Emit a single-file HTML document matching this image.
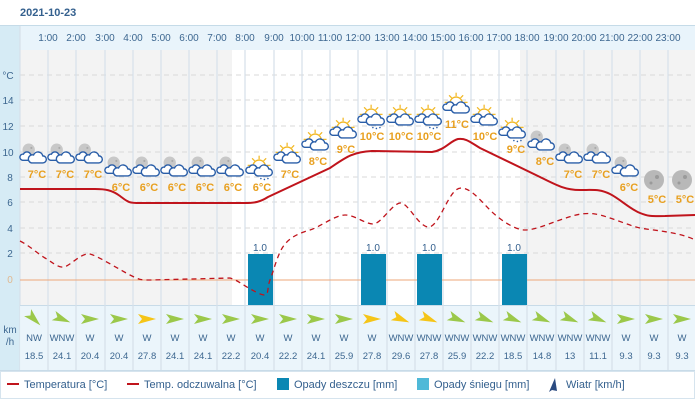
<!DOCTYPE html>
<html><head><meta charset="utf-8"><style>
body{margin:0;background:#fff;font-family:"Liberation Sans",sans-serif}
svg text{font-family:"Liberation Sans",sans-serif}
</style></head><body>
<svg width="695" height="408" xmlns="http://www.w3.org/2000/svg">
<defs>
<g id="cl"><path d="M-3 9 h13 a4 4 0 0 0 0-8 a5.5 5.5 0 0 0 -10.5 -1 a4.5 4.5 0 0 0 -2.5 9 z" fill="#fff" stroke="#2a5ea8" stroke-width="1.6"/></g>
<g id="cl2"><path d="M-13 6 h8 a4 4 0 0 0 1-7 a4.5 4.5 0 0 0 -8 0 a3.5 3.5 0 0 0 -1 7z" fill="#fff" stroke="#2a5ea8" stroke-width="1.6"/><use href="#cl"/></g>
<g id="sun"><g stroke="#f2b824" stroke-width="1.4"><line x1="-1" y1="-14" x2="-1" y2="-10"/><line x1="-9" y1="-11" x2="-6" y2="-8"/><line x1="7" y1="-11" x2="4" y2="-8"/><line x1="-14" y1="-3" x2="-10" y2="-3"/><line x1="8" y1="-3" x2="12" y2="-3"/></g><path d="M-8 -2 a7 7 0 0 1 14 0" fill="#fff" stroke="#f2b824" stroke-width="1.5"/></g>
<g id="moon"><circle cx="-6" cy="-6" r="7" fill="#c8c8c8"/><circle cx="-3" cy="-8" r="1.2" fill="#aaa"/></g>
<g id="mc"><g transform="scale(0.88)"><use href="#moon"/><use href="#cl2"/></g></g>
<g id="sc"><g transform="scale(0.88)"><use href="#sun"/><use href="#cl2"/></g></g>
<g id="sr"><g transform="scale(0.88)"><use href="#sun"/><use href="#cl2"/><g fill="#2a5ea8"><circle cx="1" cy="12" r="0.9"/><circle cx="5" cy="13" r="0.9"/><circle cx="9" cy="12" r="0.9"/></g></g></g>
<g id="mb"><circle cx="0" cy="0" r="10" fill="#b8b8b8"/><circle cx="3" cy="-3" r="2" fill="#9a9a9a"/><circle cx="-3" cy="3" r="1.5" fill="#9a9a9a"/></g>
<path id="ar" d="M-9 -5 L9 0 L-9 5 L-5 0 Z"/>
</defs>
<text x="20" y="16" font-size="11" font-weight="bold" fill="#34608e">2021-10-23</text>
<rect x="0" y="26" width="20" height="346" fill="#d6ebf5"/>
<rect x="20" y="26" width="675" height="24" fill="#e9f4fb"/>
<line x1="0" y1="25.5" x2="695" y2="25.5" stroke="#c5dbe8"/>
<rect x="20" y="50" width="212" height="255" fill="#f3f3f3"/>
<rect x="520" y="50" width="175" height="255" fill="#f3f3f3"/>
<g stroke="#d8d8d8" stroke-dasharray="5,4"><line x1="20" y1="75" x2="695" y2="75"/><line x1="20" y1="100" x2="695" y2="100"/><line x1="20" y1="126" x2="695" y2="126"/><line x1="20" y1="152" x2="695" y2="152"/><line x1="20" y1="177" x2="695" y2="177"/><line x1="20" y1="202" x2="695" y2="202"/><line x1="20" y1="228" x2="695" y2="228"/><line x1="20" y1="253" x2="695" y2="253"/></g>
<g stroke="#d6e0ea" stroke-width="1.2"><line x1="20" y1="26" x2="20" y2="372"/><line x1="48" y1="50" x2="48" y2="370"/><line x1="76" y1="50" x2="76" y2="370"/><line x1="105" y1="50" x2="105" y2="370"/><line x1="133" y1="50" x2="133" y2="370"/><line x1="161" y1="50" x2="161" y2="370"/><line x1="189" y1="50" x2="189" y2="370"/><line x1="217" y1="50" x2="217" y2="370"/><line x1="245" y1="50" x2="245" y2="370"/><line x1="274" y1="50" x2="274" y2="370"/><line x1="302" y1="50" x2="302" y2="370"/><line x1="330" y1="50" x2="330" y2="370"/><line x1="358" y1="50" x2="358" y2="370"/><line x1="387" y1="50" x2="387" y2="370"/><line x1="415" y1="50" x2="415" y2="370"/><line x1="443" y1="50" x2="443" y2="370"/><line x1="471" y1="50" x2="471" y2="370"/><line x1="499" y1="50" x2="499" y2="370"/><line x1="527" y1="50" x2="527" y2="370"/><line x1="556" y1="50" x2="556" y2="370"/><line x1="584" y1="50" x2="584" y2="370"/><line x1="612" y1="50" x2="612" y2="370"/><line x1="640" y1="50" x2="640" y2="370"/><line x1="668" y1="50" x2="668" y2="370"/></g>
<g font-size="10" fill="#3d6790" text-anchor="middle"><text x="48" y="41">1:00</text><text x="76" y="41">2:00</text><text x="105" y="41">3:00</text><text x="133" y="41">4:00</text><text x="161" y="41">5:00</text><text x="189" y="41">6:00</text><text x="217" y="41">7:00</text><text x="245" y="41">8:00</text><text x="274" y="41">9:00</text><text x="302" y="41">10:00</text><text x="330" y="41">11:00</text><text x="358" y="41">12:00</text><text x="387" y="41">13:00</text><text x="415" y="41">14:00</text><text x="443" y="41">15:00</text><text x="471" y="41">16:00</text><text x="499" y="41">17:00</text><text x="527" y="41">18:00</text><text x="556" y="41">19:00</text><text x="584" y="41">20:00</text><text x="612" y="41">21:00</text><text x="640" y="41">22:00</text><text x="668" y="41">23:00</text></g>
<g font-size="10" fill="#3d6790" text-anchor="middle"><text x="8" y="79">°C</text><text x="8" y="104">14</text><text x="8" y="130">12</text><text x="8" y="156">10</text><text x="10" y="181">8</text><text x="10" y="206">6</text><text x="10" y="232">4</text><text x="10" y="257">2</text><text x="10" y="283" fill="#e0b890">0</text><text x="10" y="333">km</text><text x="10" y="345">/h</text></g>
<line x1="20" y1="280" x2="695" y2="280" stroke="#eea77a" stroke-width="1"/>
<g fill="#0a87b3"><rect x="248" y="254" width="25" height="51"/><rect x="361" y="254" width="25" height="51"/><rect x="417" y="254" width="25" height="51"/><rect x="502" y="254" width="25" height="51"/></g>
<g font-size="10" fill="#34608e" text-anchor="middle"><text x="260" y="251">1.0</text><text x="373" y="251">1.0</text><text x="429" y="251">1.0</text><text x="514" y="251">1.0</text></g>
<path d="M20 241 C30 246,38 254,45 258 S58 268,64 267 S82 252,90 254 S120 270,130 275 S140 280,150 280 L230 278 C238 280,245 287,258 293 S266 290,270 280 S278 252,285 244 S300 233,310 230 S335 215,345 215 S365 224,373 224 S392 204,400 203 S418 226,428 227 S446 198,456 190 S480 200,490 210 S515 230,525 230 S548 224,560 220 S582 212,595 214 S630 226,640 228 S680 232,695 240" fill="none" stroke="#c0141c" stroke-width="1.3" stroke-dasharray="5,4"/>
<path d="M20 189 L95 189 C105 189,112 190,120 196 S128 203,140 203 L245 203 C255 203,260 202,268 197 L330 168 C345 158,352 152,372 151 L432 152 C445 150,450 141,458 139 C466 138,470 142,480 148 L540 177 C556 185,565 190,580 190 S600 189,610 194 S630 209,640 213 S652 216,665 216 L695 215" fill="none" stroke="#c0141c" stroke-width="2"/>
<g><use href="#mc" x="34" y="155"/><use href="#mc" x="62" y="155"/><use href="#mc" x="90" y="155"/><use href="#mc" x="119" y="168"/><use href="#mc" x="147" y="168"/><use href="#mc" x="175" y="168"/><use href="#mc" x="203" y="168"/><use href="#mc" x="231" y="168"/><use href="#sr" x="260" y="168"/><use href="#sc" x="288" y="155"/><use href="#sc" x="316" y="142"/><use href="#sc" x="344" y="130"/><use href="#sr" x="372" y="117"/><use href="#sc" x="401" y="117"/><use href="#sr" x="429" y="117"/><use href="#sc" x="457" y="105"/><use href="#sc" x="485" y="117"/><use href="#sr" x="513" y="130"/><use href="#mc" x="542" y="142"/><use href="#mc" x="570" y="155"/><use href="#mc" x="598" y="155"/><use href="#mc" x="626" y="168"/><use href="#mb" x="654" y="180"/><use href="#mb" x="682" y="180"/></g>
<g font-size="11" font-weight="bold" fill="#e8a020" text-anchor="middle"><text x="37" y="178">7°C</text><text x="65" y="178">7°C</text><text x="93" y="178">7°C</text><text x="121" y="191">6°C</text><text x="149" y="191">6°C</text><text x="177" y="191">6°C</text><text x="205" y="191">6°C</text><text x="233" y="191">6°C</text><text x="262" y="191">6°C</text><text x="290" y="178">7°C</text><text x="318" y="165">8°C</text><text x="346" y="153">9°C</text><text x="372" y="140">10°C</text><text x="401" y="140">10°C</text><text x="429" y="140">10°C</text><text x="457" y="128">11°C</text><text x="485" y="140">10°C</text><text x="516" y="153">9°C</text><text x="545" y="165">8°C</text><text x="573" y="178">7°C</text><text x="601" y="178">7°C</text><text x="629" y="191">6°C</text><text x="657" y="203">5°C</text><text x="685" y="203">5°C</text></g>
<rect x="20" y="305" width="675" height="65" fill="#e9f4fb" opacity="0.9"/>
<line x1="20" y1="305.5" x2="695" y2="305.5" stroke="#c8dbe8"/>
<g stroke="#d6e0ea" stroke-width="1.2"><line x1="48" y1="305" x2="48" y2="370"/><line x1="76" y1="305" x2="76" y2="370"/><line x1="105" y1="305" x2="105" y2="370"/><line x1="133" y1="305" x2="133" y2="370"/><line x1="161" y1="305" x2="161" y2="370"/><line x1="189" y1="305" x2="189" y2="370"/><line x1="217" y1="305" x2="217" y2="370"/><line x1="245" y1="305" x2="245" y2="370"/><line x1="274" y1="305" x2="274" y2="370"/><line x1="302" y1="305" x2="302" y2="370"/><line x1="330" y1="305" x2="330" y2="370"/><line x1="358" y1="305" x2="358" y2="370"/><line x1="387" y1="305" x2="387" y2="370"/><line x1="415" y1="305" x2="415" y2="370"/><line x1="443" y1="305" x2="443" y2="370"/><line x1="471" y1="305" x2="471" y2="370"/><line x1="499" y1="305" x2="499" y2="370"/><line x1="527" y1="305" x2="527" y2="370"/><line x1="556" y1="305" x2="556" y2="370"/><line x1="584" y1="305" x2="584" y2="370"/><line x1="612" y1="305" x2="612" y2="370"/><line x1="640" y1="305" x2="640" y2="370"/><line x1="668" y1="305" x2="668" y2="370"/></g>
<line x1="0" y1="370.5" x2="695" y2="370.5" stroke="#c8dbe8"/>
<g fill="#9bc84a"><use href="#ar" transform="translate(34 319) rotate(45)"/><use href="#ar" transform="translate(62 319) rotate(22)"/><use href="#ar" transform="translate(90 319)"/><use href="#ar" transform="translate(119 319)"/><use href="#ar" fill="#f5c518" transform="translate(147 319)"/><use href="#ar" transform="translate(175 319)"/><use href="#ar" transform="translate(203 319)"/><use href="#ar" transform="translate(231 319)"/><use href="#ar" transform="translate(260 319)"/><use href="#ar" transform="translate(288 319)"/><use href="#ar" transform="translate(316 319)"/><use href="#ar" transform="translate(344 319)"/><use href="#ar" fill="#f5c518" transform="translate(372 319)"/><use href="#ar" fill="#f5c518" transform="translate(401 319) rotate(22)"/><use href="#ar" fill="#f5c518" transform="translate(429 319) rotate(22)"/><use href="#ar" transform="translate(457 319) rotate(22)"/><use href="#ar" transform="translate(485 319) rotate(22)"/><use href="#ar" transform="translate(513 319) rotate(22)"/><use href="#ar" transform="translate(542 319) rotate(22)"/><use href="#ar" transform="translate(570 319) rotate(22)"/><use href="#ar" transform="translate(598 319) rotate(22)"/><use href="#ar" transform="translate(626 319)"/><use href="#ar" transform="translate(654 319)"/><use href="#ar" transform="translate(682 319)"/></g>
<g font-size="9.5" fill="#3d6790" text-anchor="middle"><text x="34" y="341">NW</text><text x="62" y="341">WNW</text><text x="90" y="341">W</text><text x="119" y="341">W</text><text x="147" y="341">W</text><text x="175" y="341">W</text><text x="203" y="341">W</text><text x="231" y="341">W</text><text x="260" y="341">W</text><text x="288" y="341">W</text><text x="316" y="341">W</text><text x="344" y="341">W</text><text x="372" y="341">W</text><text x="401" y="341">WNW</text><text x="429" y="341">WNW</text><text x="457" y="341">WNW</text><text x="485" y="341">WNW</text><text x="513" y="341">WNW</text><text x="542" y="341">WNW</text><text x="570" y="341">WNW</text><text x="598" y="341">WNW</text><text x="626" y="341">W</text><text x="654" y="341">W</text><text x="682" y="341">W</text></g>
<g font-size="9.5" fill="#3d6790" text-anchor="middle"><text x="34" y="359">18.5</text><text x="62" y="359">24.1</text><text x="90" y="359">20.4</text><text x="119" y="359">20.4</text><text x="147" y="359">27.8</text><text x="175" y="359">24.1</text><text x="203" y="359">24.1</text><text x="231" y="359">22.2</text><text x="260" y="359">20.4</text><text x="288" y="359">22.2</text><text x="316" y="359">24.1</text><text x="344" y="359">25.9</text><text x="372" y="359">27.8</text><text x="401" y="359">29.6</text><text x="429" y="359">27.8</text><text x="457" y="359">25.9</text><text x="485" y="359">22.2</text><text x="513" y="359">18.5</text><text x="542" y="359">14.8</text><text x="570" y="359">13</text><text x="598" y="359">11.1</text><text x="626" y="359">9.3</text><text x="654" y="359">9.3</text><text x="682" y="359">9.3</text></g>
<rect x="0.5" y="371.5" width="694" height="27" fill="#fff" stroke="#d6e4ee"/>
<line x1="7" y1="384" x2="19" y2="384" stroke="#c0141c" stroke-width="2"/>
<line x1="127" y1="384" x2="139" y2="384" stroke="#c0141c" stroke-width="2"/>
<rect x="277" y="378" width="12" height="12" fill="#0a87b3"/>
<rect x="417" y="378" width="12" height="12" fill="#4fb9d8"/>
<path d="M555 378 L557 391 L552 390 L549 392 Z" fill="#2a4a80"/>
<g font-size="11" fill="#34608e"><text x="24" y="388">Temperatura [°C]</text><text x="144" y="388">Temp. odczuwalna [°C]</text><text x="294" y="388">Opady deszczu [mm]</text><text x="434" y="388">Opady śniegu [mm]</text><text x="566" y="388">Wiatr [km/h]</text></g>
</svg>
</body></html>
